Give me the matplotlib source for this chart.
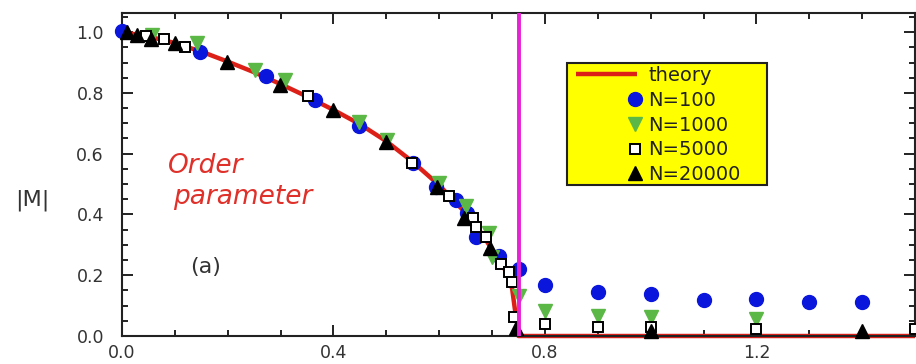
import numpy as np
import matplotlib
matplotlib.use("Agg")
import matplotlib.pyplot as plt
from matplotlib.legend_handler import HandlerLine2D
from matplotlib.ticker import MultipleLocator, FormatStrFormatter
from matplotlib.patches import Rectangle

plt.rcParams['font.family'] = ['DejaVu Sans']

# ---- data ----
theory_x = [0.0, 0.05, 0.10, 0.15, 0.20, 0.25, 0.30, 0.35, 0.40, 0.45, 0.50, 0.55,
            0.60, 0.65, 0.68, 0.70, 0.72, 0.73, 0.738, 0.743, 0.748, 0.75, 1.50]
theory_y = [1.0, 0.986, 0.964, 0.936, 0.903, 0.868, 0.829, 0.788, 0.744, 0.697, 0.641, 0.573,
            0.496, 0.405, 0.338, 0.285, 0.232, 0.200, 0.155, 0.090, 0.040, 0.0, 0.0]

n100_x = [0.0, 0.148, 0.272, 0.366, 0.449, 0.551, 0.594, 0.631, 0.653, 0.669, 0.713, 0.751,
          0.80, 0.90, 1.00, 1.10, 1.20, 1.30, 1.40]
n100_y = [1.005, 0.935, 0.856, 0.777, 0.690, 0.568, 0.492, 0.449, 0.405, 0.326, 0.263, 0.222,
          0.167, 0.144, 0.138, 0.118, 0.121, 0.112, 0.112]

n1000_x = [0.056, 0.141, 0.251, 0.308, 0.449, 0.502, 0.600, 0.650, 0.694, 0.700, 0.750,
           0.80, 0.90, 1.00, 1.20]
n1000_y = [0.990, 0.963, 0.877, 0.843, 0.703, 0.646, 0.504, 0.427, 0.340, 0.260, 0.132,
           0.082, 0.066, 0.062, 0.056]

n5000_x = [0.045, 0.080, 0.119, 0.352, 0.548, 0.618, 0.663, 0.669, 0.688, 0.717, 0.732,
           0.738, 0.742, 0.80, 0.90, 1.00, 1.20, 1.50]
n5000_y = [0.987, 0.976, 0.952, 0.790, 0.569, 0.460, 0.389, 0.360, 0.327, 0.238, 0.210,
           0.179, 0.061, 0.040, 0.030, 0.030, 0.023, 0.023]

n20000_x = [0.010, 0.028, 0.055, 0.100, 0.198, 0.298, 0.399, 0.499, 0.595, 0.647, 0.697,
            0.745, 1.00, 1.40]
n20000_y = [1.000, 0.990, 0.978, 0.965, 0.903, 0.826, 0.744, 0.637, 0.490, 0.389, 0.290,
            0.028, 0.015, 0.015]

x_critical = 0.75
labels = ["theory", "N=100", "N=1000", "N=5000", "N=20000"]

# ---- figure ----
fig = plt.figure(figsize=(9.16, 3.64), dpi=100)
ax = fig.add_axes([0.1332, 0.0769, 0.8657, 0.8874])

red = '#dc2018'
ax.plot(theory_x, theory_y, color=red, lw=3.2, zorder=2, label=labels[0],
        solid_capstyle='butt', clip_on=False)
ax.plot(n100_x, n100_y, ls='none', marker='o', ms=10, color='#0a16dc', mec='#0a16dc',
        zorder=3, label=labels[1], clip_on=False)
ax.plot(n1000_x, n1000_y, ls='none', marker='v', ms=10, color='#5cb846', mec='#5cb846',
        zorder=4, label=labels[2], clip_on=False)
ax.plot(n5000_x, n5000_y, ls='none', marker='s', ms=7.5, mfc='white', mec='black', mew=1.4,
        zorder=5, label=labels[3], clip_on=False)
ax.plot(n20000_x, n20000_y, ls='none', marker='^', ms=9.5, color='black', zorder=6,
        label=labels[4], clip_on=False)

ax.axvline(x_critical, color='#e623d4', lw=2.8, zorder=7)

ax.set_xlim(0, 1.5)
ax.set_ylim(0, 1.063)
ax.xaxis.set_major_locator(MultipleLocator(0.4))
ax.xaxis.set_minor_locator(MultipleLocator(0.1))
ax.yaxis.set_major_locator(MultipleLocator(0.2))
ax.yaxis.set_minor_locator(MultipleLocator(0.05))
ax.xaxis.set_major_formatter(FormatStrFormatter('%.1f'))
ax.yaxis.set_major_formatter(FormatStrFormatter('%.1f'))
ax.tick_params(which='both', direction='in', top=True, right=True, width=1.4, colors='#222222')
ax.tick_params(which='major', length=8, labelsize=12.5, labelcolor='#333333')
ax.tick_params(which='minor', length=4.5)
ax.tick_params(axis='y', which='major', pad=13)
ax.tick_params(axis='x', which='major', pad=6)
for s in ax.spines.values():
    s.set_linewidth(1.5)
    s.set_color('#222222')

ax.set_ylabel('|M|', rotation=0, fontsize=16, color='#333333', ha='center', va='center')
ax.yaxis.set_label_coords(-0.1135, 0.421)

ax.text(0.087, 0.538, 'Order', color='#e0302a', fontsize=19, style='italic', va='baseline')
ax.text(0.096, 0.435, 'parameter', color='#e0302a', fontsize=19, style='italic', va='baseline')
ax.text(0.128, 0.207, '(a)', color='#333333', fontsize=16, va='baseline')


class RightMarkerHandler(HandlerLine2D):
    def create_artists(self, legend, orig_handle, xdescent, ydescent, width, height,
                       fontsize, trans):
        arts = super().create_artists(legend, orig_handle, xdescent, ydescent, width,
                                      height, fontsize, trans)
        if orig_handle.get_linestyle() in ('None', 'none', ' ', ''):
            for a in arts:
                xd = np.asarray(a.get_xdata(), dtype=float)
                a.set_xdata(np.full_like(xd, xd.max() - 0.1 * fontsize))
        return arts


# yellow legend box
box = Rectangle((0.561, 0.4675), 0.252, 0.3777, transform=ax.transAxes,
                facecolor='#ffff00', edgecolor='#222222', lw=1.5, zorder=9)
ax.add_patch(box)

leg = ax.legend(loc='upper left', bbox_to_anchor=(0.573, 0.836), fontsize=14,
                frameon=False, handlelength=3.1, handletextpad=0.6, labelspacing=0.30,
                borderpad=0.0, borderaxespad=0.0, numpoints=1,
                handler_map={matplotlib.lines.Line2D: RightMarkerHandler()})
for t in leg.get_texts():
    t.set_color('#222222')
leg.set_zorder(10)

fig.savefig('out.png', dpi=100)
